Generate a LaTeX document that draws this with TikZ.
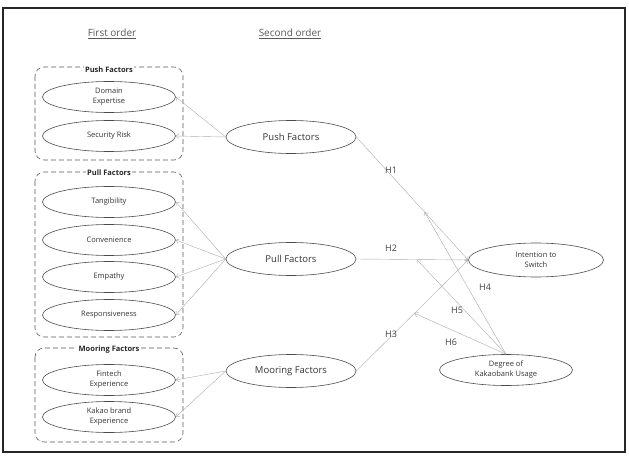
\documentclass[tikz,border=0pt]{standalone}
\usepackage{fontspec}
\setmainfont{Open Sans}
\usetikzlibrary{shapes.geometric,arrows.meta}
\begin{document}
\begin{tikzpicture}[x=1pt,y=-1pt,
  item/.style={draw=gray!60!black,semithick,ellipse,minimum width=133pt,minimum height=31pt,inner sep=0pt,
    font=\fontsize{7.5}{10}\selectfont,align=center,text=black!80},
  factor/.style={item,minimum width=130pt,minimum height=33pt,font=\fontsize{9.5}{11}\selectfont},
  group/.style={draw=gray!70!black,dash pattern=on 5pt off 3pt,rounded corners=9pt,semithick},
  grouptitle/.style={fill=white,font=\bfseries\fontsize{7.5}{9}\selectfont,inner sep=1.5pt,text=black!85},
  link/.style={draw=gray!65,-{Straight Barb[length=3pt,width=5pt]}},
  hlabel/.style={font=\fontsize{9}{10}\selectfont,text=black!75},
  heading/.style={font=\fontsize{10}{12}\selectfont,text=black!65}]
  \useasboundingbox (0,0) rectangle (629,457);
  \draw[line width=1.5pt,gray!30!black] (3,8) rectangle (625,452);

  % column headings
  \node[heading] (first) at (112,34) {\underline{First order}};
  \node[heading] (second) at (290,34) {\underline{Second order}};

  % dashed groups
  \draw[group] (35,67) rectangle (183,160);
  \draw[group] (35,172) rectangle (183,337);
  \draw[group] (35,348) rectangle (183,442);
  \node[grouptitle] (gpush) at (109,70) {Push Factors};
  \node[grouptitle] (gpull) at (109,173) {Pull Factors};
  \node[grouptitle] (gmoor) at (109,350) {Mooring Factors};

  % first order
  \node[item] (domain) at (109,97) {Domain\\Expertise};
  \node[item] (security) at (109,136) {Security Risk};
  \node[item] (tangib) at (109,202) {Tangibility};
  \node[item] (conven) at (109,240) {Convenience};
  \node[item] (empathy) at (109,277) {Empathy};
  \node[item] (respons) at (109,315) {Responsiveness};
  \node[item] (fintech) at (109,380) {Fintech\\Experience};
  \node[item] (kakao) at (109,417) {Kakao brand\\Experience};

  % second order
  \node[factor] (push) at (291,137) {Push Factors};
  \node[factor] (pull) at (291,259) {Pull Factors};
  \node[factor] (mooring) at (291,371) {Mooring Factors};

  \node[item,minimum width=135pt,minimum height=34pt] (intent) at (536,260) {Intention to\\Switch};
  \node[item] (degree) at (506,370) {Degree of\\Kakaobank Usage};

  \foreach \t in {domain,security} \draw[link] (push.west) -- (\t.east);
  \foreach \t in {tangib,conven,empathy,respons} \draw[link] (pull.west) -- (\t.east);
  \foreach \t in {fintech,kakao} \draw[link] (mooring.west) -- (\t.east);

  \draw[link] (push.east) -- coordinate[pos=0.61] (m1) (intent.west);
  \draw[link] (pull.east) -- coordinate[pos=0.54] (m2) (intent.west);
  \draw[link] (mooring.east) -- coordinate[pos=0.52] (m3) (intent.west);
  \draw[link] (degree.north) -- (m1);
  \draw[link] (degree.north) -- (m2);
  \draw[link] (degree.north) -- (m3);

  \node[hlabel] (h1) at (391,170) {H1};
  \node[hlabel] (h2) at (391,248) {H2};
  \node[hlabel] (h3) at (391,334) {H3};
  \node[hlabel] (h4) at (485,287) {H4};
  \node[hlabel] (h5) at (457,310) {H5};
  \node[hlabel] (h6) at (451,342) {H6};
\end{tikzpicture}
\end{document}
